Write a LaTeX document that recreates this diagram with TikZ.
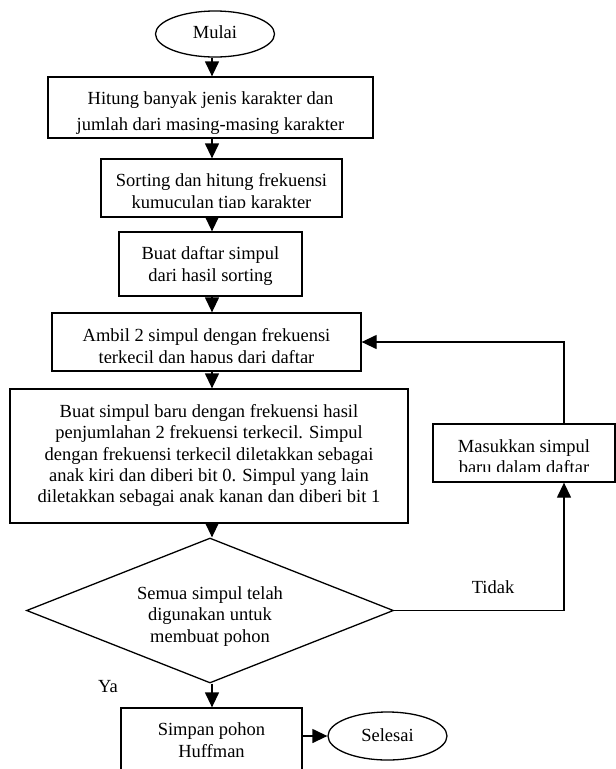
\documentclass[tikz,border=0pt]{standalone}
\usepackage{fontspec}
\setmainfont{Liberation Serif}
\usetikzlibrary{shapes.geometric,arrows.meta,calc}
\newcommand\fs{\fontsize{18.5}{21.3}\selectfont}
\tikzset{
  box/.style={draw, line width=1.3pt, rectangle, inner sep=0pt},
  txt/.style={font=\fs, align=center, inner sep=0pt, anchor=north},
  lbl/.style={font=\fs, inner sep=0pt},
  term/.style={draw, ellipse, line width=1.3pt, inner sep=0pt, font=\fs},
  dec/.style={draw, diamond, line width=1.3pt, inner sep=0pt},
  arr/.style={line width=1.3pt, -{Triangle[width=14pt,length=15pt]}},
}
\begin{document}
\begin{tikzpicture}[x=1pt,y=-1pt]
\useasboundingbox (0,0) rectangle (616,769);
\clip (0,0) rectangle (616,769);
\coordinate (ax) at (212,0);
\coordinate (lx) at (564,0);

% texts (clipped like the original text boxes)
\begin{scope}\clip (48,77) rectangle (373,137);
\node[txt] (t1) at (210.5,89.6) {\strut Hitung banyak jenis karakter dan\\[4pt]jumlah dari masing-masing karakter};
\end{scope}
\begin{scope}\clip (101,159) rectangle (342,207);
\node[txt] (t2) at (221.5,171.6) {\strut Sorting dan hitung frekuensi\\kumuculan tiap karakter};
\end{scope}
\begin{scope}\clip (119,232) rectangle (302,290);
\node[txt] (t3) at (210.5,244.6) {\strut Buat daftar simpul\\dari hasil sorting};
\end{scope}
\begin{scope}\clip (52,313) rectangle (361,362);
\node[txt] (t4) at (206.5,326.6) {\strut Ambil 2 simpul dengan frekuensi\\terkecil dan hapus dari daftar};
\end{scope}
\begin{scope}\clip (10,389) rectangle (408,517);
\node[txt] (t5) at (209,402.3) {\strut Buat simpul baru dengan frekuensi hasil\\penjumlahan 2 frekuensi terkecil. Simpul\\dengan frekuensi terkecil diletakkan sebagai\\anak kiri dan diberi bit 0. Simpul yang lain\\diletakkan sebagai anak kanan dan diberi bit 1};
\end{scope}
\begin{scope}\clip (433,424) rectangle (615,471);
\node[txt] (tm) at (524,437.3) {\strut Masukkan simpul\\baru dalam daftar};
\end{scope}
\node[txt] (td) at (210,584.3) {\strut Semua simpul telah\\digunakan untuk\\membuat pohon};
\node[txt] (t6) at (211.5,720.6) {\strut Simpan pohon\\Huffman};

% shapes
\node[term, minimum width=119pt, minimum height=46pt, text depth=4pt] (start) at (215,34) {Mulai};
\node[box, minimum width=325pt, minimum height=61pt] (b1) at (210.5,107.5) {};
\node[box, minimum width=241pt, minimum height=58pt] (b2) at (221.5,188) {};
\node[box, minimum width=183pt, minimum height=64pt] (b3) at (210.5,264) {};
\node[box, minimum width=309pt, minimum height=58pt] (b4) at (206.5,342) {};
\node[box, minimum width=398pt, minimum height=134pt] (b5) at (209,456) {};
\node[box, minimum width=182pt, minimum height=58pt] (m) at (524,453) {};
\node[dec, minimum width=367pt, minimum height=145pt] (dia) at (210,610.5) {};
\node[box, minimum width=181pt, minimum height=74pt] (b6) at (211.5,745) {};
\node[term, minimum width=119pt, minimum height=48pt, text depth=2pt] (sel) at (387.5,736) {Selesai};

\node[lbl] (tidak) at (493,587) {Tidak};
\node[lbl] (ya) at (108,687) {Ya};

% connectors
\draw[arr] (start.south -| ax) -- (b1.north -| ax);
\draw[arr] (b1.south -| ax) -- (b2.north -| ax);
\draw[arr] (b2.south -| ax) -- (b3.north -| ax);
\draw[arr] (b3.south -| ax) -- (b4.north -| ax);
\draw[arr] (b4.south -| ax) -- (b5.north -| ax);
\draw[arr] (b5.south -| ax) -- (dia.north -| ax);
\draw[arr] (dia.south -| ax) -- (b6.north -| ax);
\draw[arr] (dia.east) -| (m.south -| lx);
\draw[arr] (m.north -| lx) |- (b4.east);
\draw[arr] (b6.east |- sel.west) -- (sel.west);
\end{tikzpicture}
\end{document}
